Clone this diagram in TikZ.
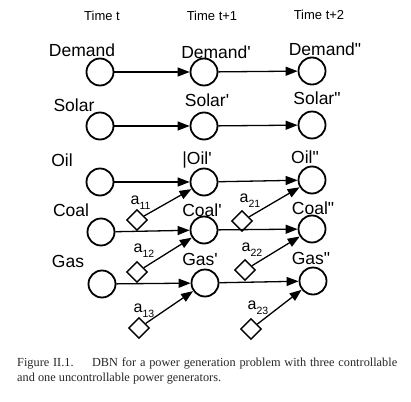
\documentclass[tikz,border=0pt]{standalone}
\usepackage{fontspec}
\setmainfont{Liberation Serif}
\newfontfamily\arialfam{Liberation Sans}
\usetikzlibrary{shapes.geometric,arrows.meta}
\newcommand{\sq}{\textquotesingle}
\newcommand{\dq}{\textquotedbl}
\begin{document}
\begin{tikzpicture}[x=1pt,y=-1pt,
  state/.style={circle,draw,line width=1.8pt,minimum size=27pt,inner sep=0pt},
  act/.style={diamond,draw,line width=1.4pt,minimum width=21pt,minimum height=21pt,inner sep=0pt,aspect=1},
  lab/.style={font=\arialfam\fontsize{17.5}{18}\selectfont,inner sep=0pt},
  tlab/.style={font=\arialfam\fontsize{13}{14}\selectfont,inner sep=0pt},
  alab/.style={font=\arialfam\fontsize{16}{16}\selectfont,inner sep=0pt,anchor=base west},
  link/.style={line width=1.3pt,-{Triangle[length=12pt,width=9pt]}},
  ]
\useasboundingbox (0,0) rectangle (411,401);

% time labels
\node[tlab] (t0) at (102,16) {Time t};
\node[tlab] (t1) at (212,16) {Time t+1};
\node[tlab] (t2) at (319,15) {Time t+2};

% state nodes
\node[state] (d1) at (100,72) {};
\node[state] (d2) at (204,72) {};
\node[state] (d3) at (312,71) {};
\node[state] (s1) at (100,126) {};
\node[state] (s2) at (204,126) {};
\node[state] (s3) at (312,125) {};
\node[state] (o1) at (100,182) {};
\node[state] (o2) at (204,182) {};
\node[state] (o3) at (312,180) {};
\node[state] (c1) at (101,232) {};
\node[state] (c2) at (204,230) {};
\node[state] (c3) at (312,229) {};
\node[state] (g1) at (102,284) {};
\node[state] (g2) at (205,283) {};
\node[state] (g3) at (313,281) {};

% state labels
\node[lab] (ld1) at (82,50) {Demand};
\node[lab] (ld2) at (216,52) {Demand\sq};
\node[lab] (ld3) at (325,49) {Demand\dq};
\node[lab] (ls1) at (74,105) {Solar};
\node[lab] (ls2) at (207,100) {Solar\sq};
\node[lab] (ls3) at (317,98) {Solar\dq};
\node[lab] (lo1) at (62,160) {Oil};
\node[lab] (lo2) at (197,160) {\textbar Oil\sq};
\node[lab] (lo3) at (305,157) {Oil\dq};
\node[lab] (lc1) at (71,210) {Coal};
\node[lab] (lc2) at (202,210) {Coal\sq};
\node[lab] (lc3) at (313,208) {Coal\dq};
\node[lab] (lg1) at (68,261) {Gas};
\node[lab] (lg2) at (200,259) {Gas\sq};
\node[lab] (lg3) at (311,258) {Gas\dq};

% action nodes
\node[act] (a11) at (137,220) {};
\node[act] (a12) at (137,272) {};
\node[act] (a13) at (139,328) {};
\node[act] (a21) at (242,221) {};
\node[act] (a22) at (245,270) {};
\node[act] (a23) at (251,329) {};

% action labels
\node[alab] (la11) at (130.5,204.5) {a\raisebox{-5pt}{\fontsize{10.5}{11}\selectfont 11}};
\node[alab] (la12) at (133.5,252.5) {a\raisebox{-5pt}{\fontsize{10.5}{11}\selectfont 12}};
\node[alab] (la13) at (133.5,312.5) {a\raisebox{-5pt}{\fontsize{10.5}{11}\selectfont 13}};
\node[alab] (la21) at (239.5,202.5) {a\raisebox{-5pt}{\fontsize{10.5}{11}\selectfont 21}};
\node[alab] (la22) at (241.5,251.5) {a\raisebox{-5pt}{\fontsize{10.5}{11}\selectfont 22}};
\node[alab] (la23) at (247.5,309.5) {a\raisebox{-5pt}{\fontsize{10.5}{11}\selectfont 23}};

% temporal links
\draw[link] (d1) -- (d2);
\draw[link] (d2) -- (d3);
\draw[link] (s1) -- (s2);
\draw[link] (s2) -- (s3);
\draw[link] (o1) -- (o2);
\draw[link] (o2) -- (o3);
\draw[link] (c1) -- (c2);
\draw[link] (c2) -- (c3);
\draw[link] (g1) -- (g2);
\draw[link] (g2) -- (g3);

% action links
\draw[link] (a11) -- (o2);
\draw[link] (a12) -- (c2);
\draw[link] (a13) -- (g2);
\draw[link] (a21) -- (o3);
\draw[link] (a22) -- (c3);
\draw[link] (a23) -- (g3);

% caption
\node[anchor=base west,inner sep=0pt,font=\fontsize{12.3}{15.5}\selectfont,text=black!85] (cap) at (17,366)
  {\parbox[t]{380pt}{Figure II.1.\hspace{1.5em}DBN for a power generation problem with three controllable\linebreak and one uncontrollable power generators.}};
\end{tikzpicture}
\end{document}
